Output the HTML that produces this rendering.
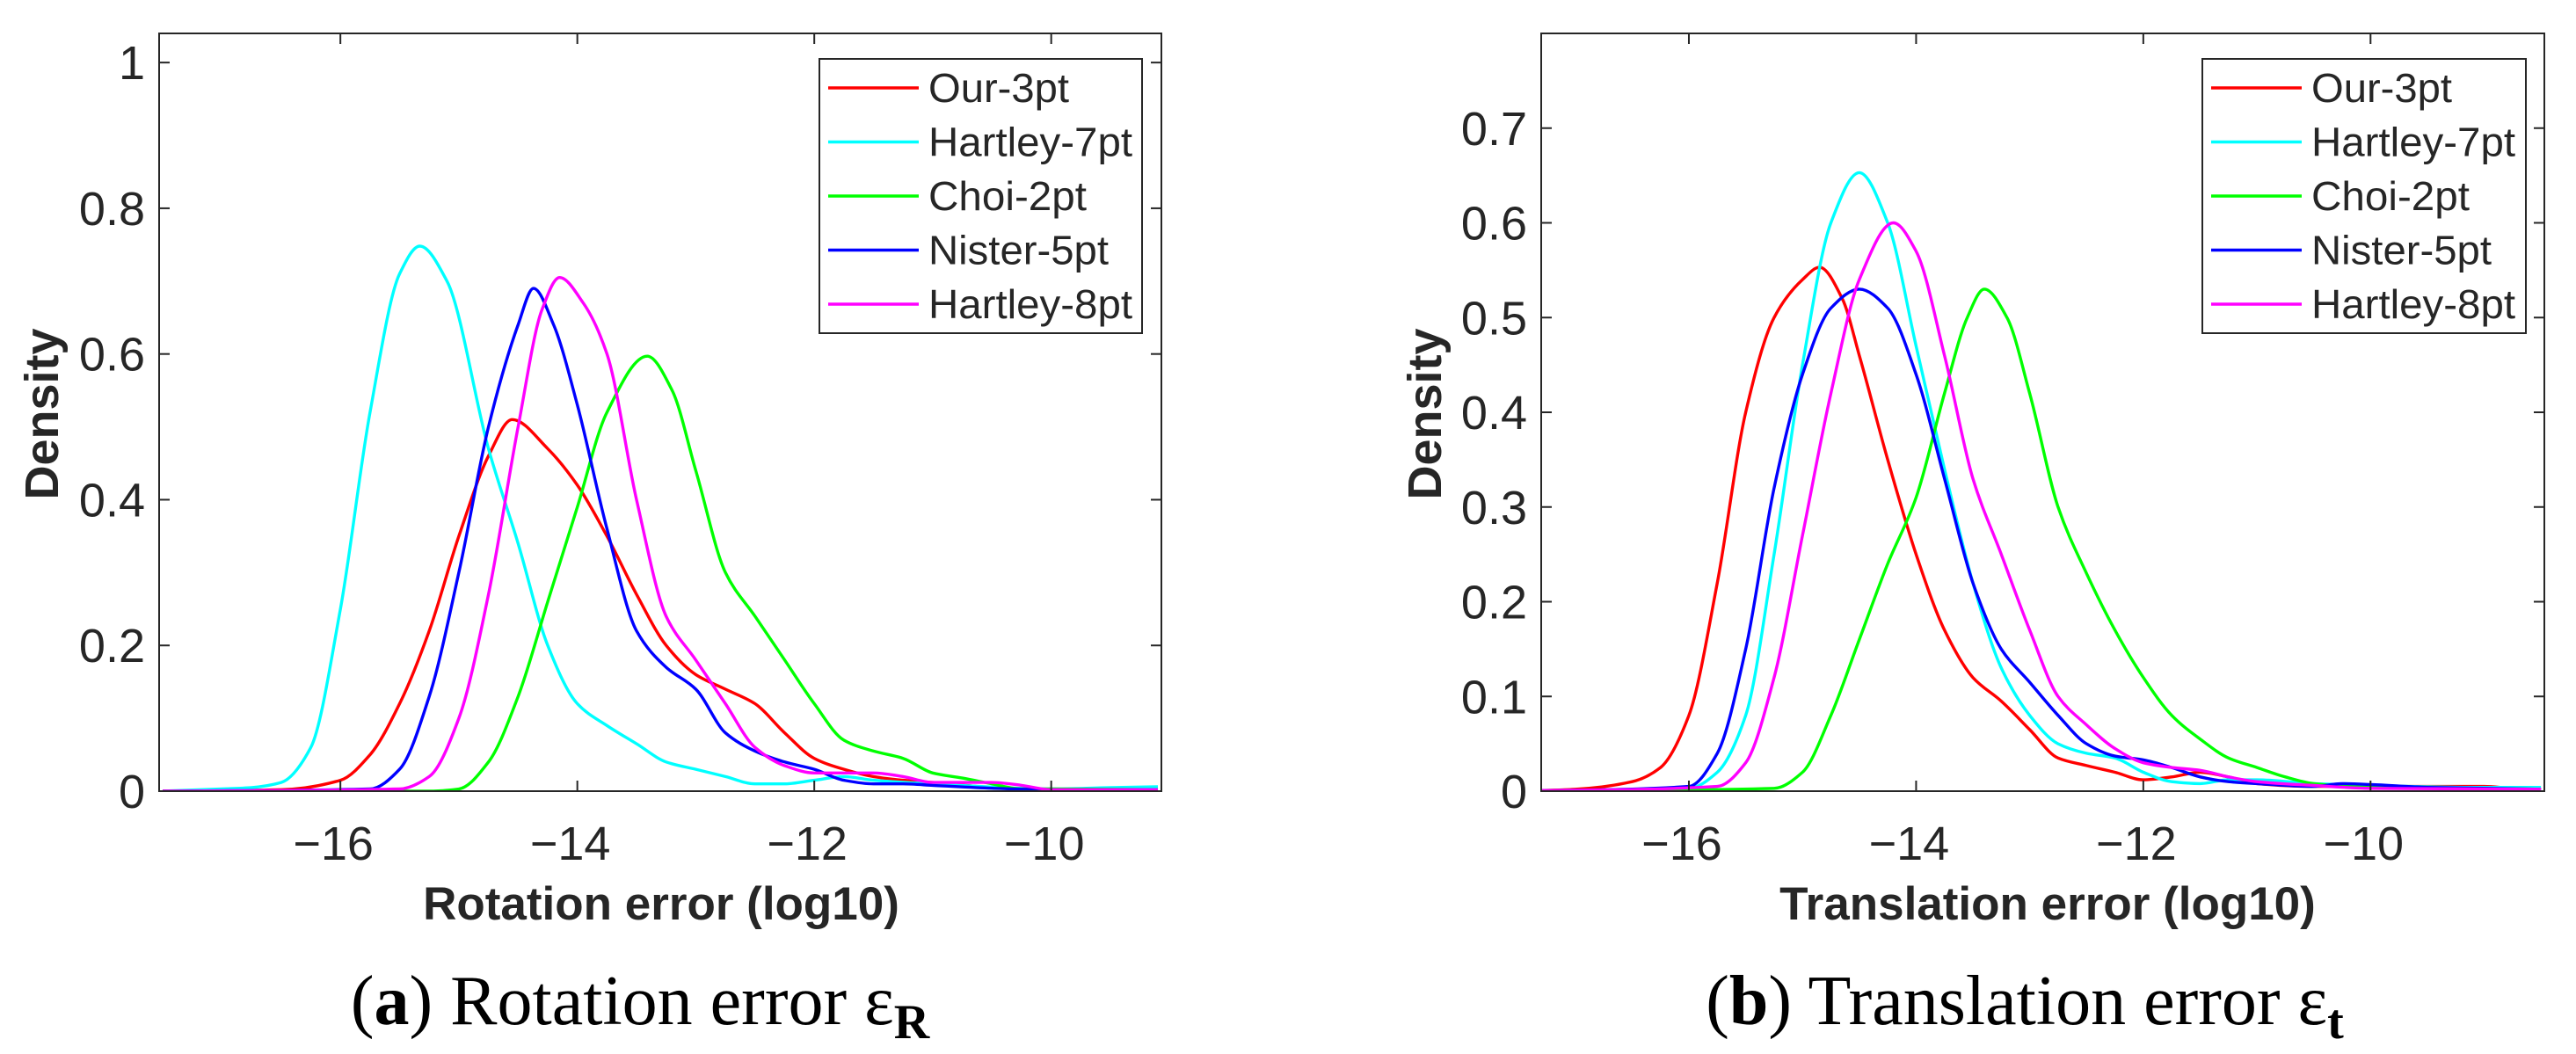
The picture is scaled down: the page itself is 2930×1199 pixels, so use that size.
<!DOCTYPE html>
<html><head><meta charset="utf-8">
<style>
html,body{margin:0;padding:0;background:#fff;}
svg{display:block;}
text{font-family:"Liberation Sans",Arial,sans-serif;fill:#262626;}
.cap{font-family:"Liberation Serif",serif;fill:#000;}
</style></head>
<body>
<svg id="fig" width="2930" height="1199" viewBox="0 0 2930 1199" xmlns="http://www.w3.org/2000/svg"></svg>
<script>
// ---- data: panel (a) rotation error ----
const rotRedX=[-17.5,-16.5,-16,-15.75,-15.5,-15.25,-15,-14.75,-14.55,-14.25,-14,-13.75,-13.5,-13.25,-13,-12.75,-12.5,-12.25,-12,-11.75,-11.5,-11.25,-11,-10.5,-10,-9.1];
const rotRedY=[0,0.002,0.015,0.05,0.12,0.22,0.35,0.46,0.51,0.47,0.42,0.35,0.27,0.2,0.16,0.14,0.12,0.08,0.045,0.03,0.02,0.015,0.012,0.005,0.002,0.003];
const rotCyanX=[-17.5,-17,-16.75,-16.5,-16.25,-16,-15.75,-15.5,-15.33,-15.1,-14.75,-14.5,-14.25,-14,-13.75,-13.5,-13.25,-13,-12.75,-12.5,-12.25,-12,-11.75,-11.5,-11,-10,-9.5,-9.1];
const rotCyanY=[0,0.003,0.005,0.012,0.06,0.25,0.52,0.71,0.748,0.7,0.47,0.34,0.2,0.12,0.09,0.065,0.04,0.03,0.02,0.01,0.01,0.015,0.02,0.015,0.01,0.003,0.005,0.006];
const rotGreenX=[-17.5,-15.25,-15,-14.75,-14.5,-14.25,-14,-13.75,-13.41,-13.2,-13,-12.75,-12.5,-12.25,-12,-11.75,-11.5,-11.25,-11,-10.75,-10.5,-10.25,-10,-9.1];
const rotGreenY=[0,0,0.003,0.04,0.13,0.26,0.39,0.52,0.597,0.55,0.44,0.3,0.24,0.18,0.12,0.07,0.055,0.045,0.025,0.018,0.01,0.003,0.003,0.002];
const rotBlueX=[-17.5,-15.75,-15.5,-15.25,-15,-14.75,-14.5,-14.37,-14.2,-14,-13.75,-13.5,-13.25,-13,-12.75,-12.5,-12.25,-12,-11.75,-11.5,-11.25,-11,-10.5,-10,-9.1];
const rotBlueY=[0,0.003,0.03,0.13,0.3,0.5,0.64,0.69,0.64,0.53,0.36,0.22,0.17,0.14,0.08,0.055,0.04,0.03,0.015,0.01,0.01,0.008,0.004,0.002,0.002];
const rotMagX=[-17.5,-15.5,-15.25,-15,-14.75,-14.5,-14.3,-14.15,-13.95,-13.75,-13.5,-13.25,-13,-12.75,-12.5,-12.25,-12,-11.75,-11.5,-11.25,-11,-10.5,-10.25,-10,-9.1];
const rotMagY=[0,0.003,0.02,0.1,0.27,0.5,0.66,0.705,0.67,0.6,0.4,0.24,0.18,0.12,0.06,0.035,0.025,0.025,0.025,0.02,0.012,0.012,0.008,0.002,0.002];
// ---- data: panel (b) translation error ----
const trRedX=[-17.5,-17,-16.5,-16.25,-16,-15.75,-15.5,-15.25,-15,-14.85,-14.65,-14.5,-14.25,-14,-13.75,-13.5,-13.25,-13,-12.75,-12.5,-12.25,-12,-11.75,-11.5,-11.25,-11,-10.5,-9,-8.75,-8.5];
const trRedY=[0,0.002,0.01,0.025,0.08,0.22,0.4,0.5,0.54,0.553,0.52,0.46,0.35,0.25,0.17,0.12,0.095,0.065,0.035,0.027,0.02,0.012,0.015,0.02,0.015,0.008,0.005,0.005,0.003,0.002];
const trCyanX=[-17.5,-16,-15.75,-15.5,-15.25,-15,-14.75,-14.5,-14.25,-14,-13.75,-13.5,-13.25,-13,-12.75,-12.5,-12.25,-12,-11.75,-11.5,-11.25,-11,-10.5,-9,-8.5];
const trCyanY=[0,0.003,0.02,0.08,0.25,0.45,0.6,0.653,0.6,0.47,0.34,0.22,0.13,0.08,0.05,0.04,0.035,0.02,0.01,0.008,0.012,0.012,0.008,0.004,0.004];
const trGreenX=[-17.5,-15.25,-15,-14.75,-14.5,-14.25,-14,-13.75,-13.55,-13.4,-13.2,-13,-12.75,-12.5,-12.25,-12,-11.75,-11.5,-11.25,-11,-10.75,-10.5,-10,-8.5];
const trGreenY=[0,0.003,0.02,0.08,0.16,0.24,0.31,0.42,0.5,0.53,0.5,0.42,0.3,0.23,0.17,0.12,0.08,0.055,0.035,0.025,0.015,0.008,0.004,0.002];
const trBlueX=[-17.5,-16,-15.75,-15.5,-15.25,-15,-14.75,-14.5,-14.25,-14,-13.75,-13.5,-13.25,-13,-12.75,-12.5,-12.25,-12,-11.75,-11.5,-11.25,-11,-10.5,-10.25,-10,-9.5,-8.5];
const trBlueY=[0,0.005,0.04,0.15,0.32,0.44,0.51,0.53,0.51,0.44,0.33,0.22,0.15,0.115,0.08,0.05,0.037,0.033,0.025,0.015,0.01,0.008,0.005,0.008,0.007,0.004,0.002];
const trMagX=[-17.5,-15.75,-15.5,-15.25,-15,-14.75,-14.5,-14.2,-14,-13.75,-13.5,-13.25,-13,-12.75,-12.5,-12.25,-12,-11.75,-11.5,-11.25,-11,-10.5,-10,-8.5];
const trMagY=[0,0.005,0.03,0.12,0.27,0.42,0.54,0.6,0.57,0.46,0.33,0.25,0.17,0.1,0.07,0.045,0.03,0.025,0.022,0.015,0.01,0.006,0.003,0.002];
const legendNames=["Our-3pt","Hartley-7pt","Choi-2pt","Nister-5pt","Hartley-8pt"];
const xTicks=[-16,-14,-12,-10];
const rotYTicks=[0,0.2,0.4,0.6,0.8,1];
const trYTicks=[0,0.1,0.2,0.3,0.4,0.5,0.6,0.7];
const colors=["#ff0000","#00ffff","#00ff00","#0000ff","#ff00ff"];

const NS="http://www.w3.org/2000/svg";
const svg=document.getElementById('fig');
function mk(tag,attrs,parent){const e=document.createElementNS(NS,tag);for(const k in attrs)e.setAttribute(k,attrs[k]);(parent||svg).appendChild(e);return e;}

function monoPath(pts){
  const n=pts.length, dx=[], m=[], t=new Array(n);
  for(let i=0;i<n-1;i++){dx[i]=pts[i+1][0]-pts[i][0];m[i]=(pts[i+1][1]-pts[i][1])/dx[i];}
  t[0]=m[0];t[n-1]=m[n-2];
  for(let i=1;i<n-1;i++){
    if(m[i-1]*m[i]<=0)t[i]=0;
    else{const w1=2*dx[i]+dx[i-1],w2=dx[i]+2*dx[i-1];t[i]=(w1+w2)/(w1/m[i-1]+w2/m[i]);}
  }
  let d='M'+pts[0][0].toFixed(1)+','+pts[0][1].toFixed(1);
  for(let i=0;i<n-1;i++){
    const h=dx[i]/3;
    d+=' C'+(pts[i][0]+h).toFixed(1)+','+(pts[i][1]+t[i]*h).toFixed(1)+' '+(pts[i+1][0]-h).toFixed(1)+','+(pts[i+1][1]-t[i+1]*h).toFixed(1)+' '+pts[i+1][0].toFixed(1)+','+pts[i+1][1].toFixed(1);
  }
  return d;
}

function panel(cfg){
  const g=mk('g',{});
  
  
  const {L,R,T,B,xmin,xmax,ymin,ymax}=cfg;
  const sx=v=>L+(v-xmin)/(xmax-xmin)*(R-L);
  const sy=v=>B-(v-ymin)/(ymax-ymin)*(B-T);
  const cid='clip'+cfg.id;
  const defs=mk('defs',{},g);
  const cp=mk('clipPath',{id:cid},defs);
  mk('rect',{x:L,y:T,width:R-L,height:B-T},cp);
  cfg.series.forEach((s,i)=>{
    const pts=s[0].map((x,j)=>[sx(x),sy(s[1][j])]);
    const p=mk('path',{d:monoPath(pts),fill:'none',stroke:colors[i],'stroke-width':3.4,'stroke-linejoin':'round','clip-path':'url(#'+cid+')'},g);
    
    
  });
  const box=mk('rect',{x:L,y:T,width:R-L,height:B-T,fill:'none',stroke:'#262626','stroke-width':2},g);
  
  
  xTicks.forEach(t=>{
    const x=sx(t);
    mk('line',{x1:x,x2:x,y1:B,y2:B-12,stroke:'#262626','stroke-width':2},g);
    mk('line',{x1:x,x2:x,y1:T,y2:T+12,stroke:'#262626','stroke-width':2},g);
    const tx=mk('text',{x:x-8,y:B+78,'text-anchor':'middle','font-size':54},g);
    tx.textContent='\u2212'+Math.abs(t);
    
    
  });
  cfg.yTicks.forEach(t=>{
    const y=sy(t);
    mk('line',{x1:L,x2:L+12,y1:y,y2:y,stroke:'#262626','stroke-width':2},g);
    mk('line',{x1:R,x2:R-12,y1:y,y2:y,stroke:'#262626','stroke-width':2},g);
    const tx=mk('text',{x:L-16,y:y+19,'text-anchor':'end','font-size':54},g);
    tx.textContent=String(t);
    
    
  });
  const xl=mk('text',{x:cfg.xlx,y:1046,'text-anchor':'middle','font-size':53,'font-weight':'bold'},g);
  xl.textContent=cfg.xlabel;
  
  
  const yl=mk('text',{x:0,y:0,'text-anchor':'middle','font-size':54,'font-weight':'bold',transform:'translate('+cfg.ylx+',471) rotate(-90)'},g);
  yl.textContent='Density';
  
  
  const lg=mk('g',{},g);
  
  
  mk('rect',{x:cfg.lgx,y:67,width:cfg.lgw,height:312,fill:'#fff',stroke:'#262626','stroke-width':2},lg);
  legendNames.forEach((n,i)=>{
    const y=100+i*61.5;
    const e=mk('g',{},lg);
    
    
    mk('line',{x1:cfg.lgx+10,x2:cfg.lgx+113,y1:y,y2:y,stroke:colors[i],'stroke-width':3.4},e);
    const t=mk('text',{x:cfg.lgx+124,y:y+16,'font-size':46,'textLength':cfg.lgLens[i],'lengthAdjust':'spacingAndGlyphs'},e);
    t.textContent=n;
  });
  const c=mk('text',{x:cfg.capx,y:1165,'text-anchor':'middle','font-size':80,'class':'cap'},g);
  
  
  c.innerHTML=cfg.caption;
}

panel({id:'rotation',name:'rotation-error-panel',L:181,R:1321,T:38,B:900,xmin:-17.53,xmax:-9.07,ymin:0,ymax:1.04,yTicks:rotYTicks,
  series:[[rotRedX,rotRedY],[rotCyanX,rotCyanY],[rotGreenX,rotGreenY],[rotBlueX,rotBlueY],[rotMagX,rotMagY]],
  xlabel:'Rotation error (log10)',xlx:752,ylx:66,lgx:932,lgw:367,capx:728,lgLens:[160,232,180,205,232],
  caption:'(<tspan font-weight="bold">a</tspan>) Rotation error ε<tspan font-weight="bold" font-size="56" dy="16">R</tspan>'});
panel({id:'translation',name:'translation-error-panel',L:1753,R:2894,T:38,B:900,xmin:-17.3,xmax:-8.47,ymin:0,ymax:0.8,yTicks:trYTicks,
  series:[[trRedX,trRedY],[trCyanX,trCyanY],[trGreenX,trGreenY],[trBlueX,trBlueY],[trMagX,trMagY]],
  xlabel:'Translation error (log10)',xlx:2329,ylx:1639,lgx:2505,lgw:368,capx:2303,lgLens:[160,232,180,205,232],
  caption:'(<tspan font-weight="bold">b</tspan>) Translation error ε<tspan font-weight="bold" font-size="56" dy="16">t</tspan>'});
</script>
</body></html>
